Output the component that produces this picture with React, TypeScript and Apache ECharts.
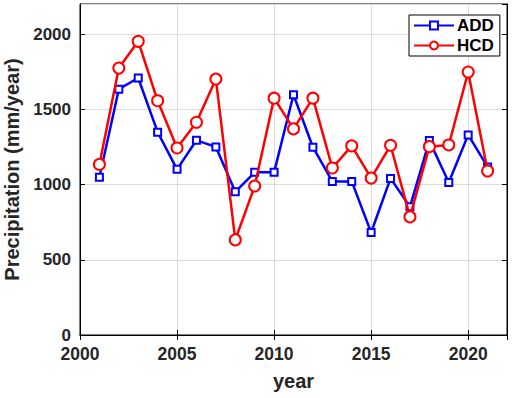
import React, { useEffect, useRef } from "react";
import * as echarts from "echarts";

const years = [2001, 2002, 2003, 2004, 2005, 2006, 2007, 2008, 2009, 2010, 2011, 2012, 2013, 2014, 2015, 2016, 2017, 2018, 2019, 2020, 2021];
const addValues = [1048, 1634, 1708, 1348, 1101, 1294, 1250, 952, 1081, 1081, 1597, 1248, 1021, 1021, 681, 1041, 852, 1292, 1014, 1330, 1117];
const hcdValues = [1134, 1774, 1952, 1557, 1243, 1414, 1701, 632, 990, 1574, 1370, 1574, 1110, 1257, 1043, 1261, 785, 1252, 1263, 1748, 1090];
const xTicks = { min: 2000, max: 2022, interval: 5 };
const yTicks = { min: 0, max: 2200, interval: 500 };

const FONT = "'Liberation Sans', Arial, sans-serif";
const TXT = "#262626";

export default function App() {
  const ref = useRef<HTMLDivElement>(null);
  useEffect(() => {
    if (!ref.current) return;
    const chart = echarts.init(ref.current, null, { renderer: "svg" });
    const tickStyle = { show: true, inside: true, length: 5, lineStyle: { color: "#000", width: 1 } };
    const plain = (v: number) => String(v);
    chart.setOption({
      animation: false,
      backgroundColor: "#fff",
      textStyle: { fontFamily: FONT },
      grid: {
        left: 80, right: 6, top: 4, bottom: 63,
        show: true, borderColor: "#000", borderWidth: 1, backgroundColor: "transparent",
        containLabel: false, outerBoundsMode: "none",
      },
      legend: {
        left: 409,
        top: 15,
        orient: "vertical",
        itemWidth: 40,
        itemHeight: 10,
        itemGap: 3,
        padding: [2, 6, 2, 4],
        borderColor: "#000",
        borderWidth: 1,
        backgroundColor: "#fff",
        borderRadius: 0,
        textStyle: { fontFamily: FONT, fontWeight: "bold", fontSize: 17, color: "#000", padding: [0, 0, 0, -2] },
        data: ["ADD", "HCD"],
      },
      xAxis: [
        {
          type: "value",
          min: xTicks.min,
          max: xTicks.max,
          interval: xTicks.interval,
          name: "year",
          nameLocation: "middle",
          nameGap: 36,
          nameTextStyle: { fontFamily: FONT, fontWeight: "bold", fontSize: 20, color: TXT },
          axisLine: { show: true, lineStyle: { color: "#000" } },
          axisTick: tickStyle,
          axisLabel: { fontFamily: FONT, fontWeight: "bold", fontSize: 17.5, color: TXT, margin: 10, showMaxLabel: false, formatter: plain },
          splitLine: { show: true, lineStyle: { color: "#dcdcdc", width: 1 } },
        },
        {
          type: "value",
          position: "top",
          min: xTicks.min,
          max: xTicks.max,
          interval: xTicks.interval,
          axisLine: { show: true, lineStyle: { color: "#000" } },
          axisTick: tickStyle,
          axisLabel: { show: false },
          splitLine: { show: false },
        },
      ],
      yAxis: [
        {
          type: "value",
          min: yTicks.min,
          max: yTicks.max,
          interval: yTicks.interval,
          name: "Precipitation (mm/year)",
          nameLocation: "middle",
          nameGap: 50,
          nameTextStyle: { fontFamily: FONT, fontWeight: "bold", fontSize: 20, color: TXT },
          axisLine: { show: true, lineStyle: { color: "#000" } },
          axisTick: tickStyle,
          axisLabel: { fontFamily: FONT, fontWeight: "bold", fontSize: 17, color: TXT, margin: 9, showMaxLabel: false, formatter: plain },
          splitLine: { show: true, lineStyle: { color: "#dcdcdc", width: 1 } },
        },
        {
          type: "value",
          position: "right",
          min: yTicks.min,
          max: yTicks.max,
          interval: yTicks.interval,
          axisLine: { show: true, lineStyle: { color: "#000" } },
          axisTick: tickStyle,
          axisLabel: { show: false },
          splitLine: { show: false },
        },
      ],
      series: [
        {
          name: "ADD",
          type: "line",
          data: years.map((y, i) => [y, addValues[i]]),
          symbol: "emptyRect",
          symbolSize: 7,
          lineStyle: { color: "#0000ff", width: 2.5 },
          itemStyle: { color: "#0000ff", borderColor: "#0000ff", borderWidth: 2.5 },
          z: 2,
        },
        {
          name: "HCD",
          type: "line",
          data: years.map((y, i) => [y, hcdValues[i]]),
          symbol: "emptyCircle",
          symbolSize: 11,
          lineStyle: { color: "#ff0000", width: 2.5 },
          itemStyle: { color: "#ff0000", borderColor: "#ff0000", borderWidth: 2 },
          z: 3,
        },
      ],
    });
    return () => chart.dispose();
  }, []);
  return <div ref={ref} style={{ width: 513, height: 398, position: "absolute", left: 0, top: 0 }} />;
}
